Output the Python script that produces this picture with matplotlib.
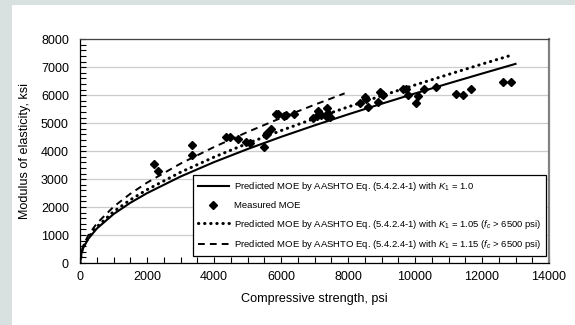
import matplotlib
matplotlib.use("Agg")
import matplotlib.pyplot as plt
from matplotlib.patches import Rectangle
from matplotlib.ticker import MultipleLocator

plt.rcParams['font.family'] = ['Liberation Sans', 'DejaVu Sans']
plt.rcParams['mathtext.fontset'] = 'custom'
plt.rcParams['mathtext.rm'] = 'Liberation Sans'
plt.rcParams['mathtext.it'] = 'Liberation Sans:italic'

# predicted curves
fc_pred = [0, 50, 100, 250, 500, 1000, 1500, 2000, 3000, 4000, 5000, 6000,
           7000, 8000, 9000, 10000, 11000, 12000, 13000]
moe_k100 = [0, 387, 547, 867, 1229, 1747, 2151, 2497, 3091, 3607, 4074, 4510,
            4921, 5314, 5694, 6063, 6422, 6774, 7121]

fc_k105 = [0, 50, 100, 250, 500, 1000, 1500, 2000, 3000, 4000, 5000, 6000,
           7000, 8000, 9000, 10000, 11000, 12000, 12900]
moe_k105 = [0, 406, 574, 910, 1290, 1835, 2259, 2622, 3245, 3787, 4278, 4735,
            5167, 5580, 5979, 6366, 6743, 7113, 7440]

fc_k115 = [0, 50, 100, 250, 500, 1000, 1500, 2000, 3000, 4000, 5000, 6000,
           7000, 7900]
moe_k115 = [0, 445, 629, 997, 1413, 2009, 2474, 2872, 3554, 4147, 4685, 5186,
            5659, 6067]

# measured
fc_meas = [2220, 2320, 3340, 3340, 4370, 4480, 4730, 4960, 5080, 5500, 5540,
           5580, 5700, 5860, 5920, 6100, 6150, 6380, 6960, 7060, 7110, 7180,
           7330, 7360, 7400, 7470, 8370, 8510, 8540, 8610, 8900, 8950, 9010,
           9050, 9630, 9730, 9800, 10030, 10080, 10270, 10620, 11220, 11440,
           11680, 12620, 12860]
moe_meas = [3530, 3300, 4230, 3850, 4520, 4490, 4440, 4340, 4300, 4160, 4560,
            4640, 4780, 5320, 5330, 5240, 5300, 5320, 5180, 5250, 5420, 5300,
            5240, 5540, 5350, 5220, 5720, 5940, 5850, 5590, 5750, 6130, 6060,
            6000, 6220, 6230, 6020, 5720, 5960, 6220, 6310, 6050, 6020, 6220,
            6460, 6460]

lbl_k100 = r'Predicted MOE by AASHTO Eq. (5.4.2.4-1) with $K_1$ = 1.0'
lbl_meas = 'Measured MOE'
lbl_k105 = r'Predicted MOE by AASHTO Eq. (5.4.2.4-1) with $K_1$ = 1.05 ($f_c$ > 6500 psi)'
lbl_k115 = r'Predicted MOE by AASHTO Eq. (5.4.2.4-1) with $K_1$ = 1.15 ($f_c$ > 6500 psi)'

fig = plt.figure(figsize=(5.75, 3.25), dpi=100)
fig.patch.set_facecolor('#d9e1e0')
fig.patches.append(Rectangle((12 / 575, 0), 1, 1 - 5 / 325, transform=fig.transFigure,
                             facecolor='white', edgecolor='none', zorder=-5))

ax = fig.add_axes([80 / 575, 62 / 325, 469 / 575, 223.7 / 325])
ax.set_facecolor('white')

ax.plot(fc_pred, moe_k100, color='black', lw=1.5, label=lbl_k100, zorder=3)
ax.plot(fc_meas, moe_meas, linestyle='none', marker='D', markersize=4.4,
        color='black', label=lbl_meas, zorder=4)
ax.plot(fc_k105, moe_k105, color='black', lw=2.2, linestyle=(0, (0.1, 1.9)),
        dash_capstyle='round', label=lbl_k105, zorder=3)
ax.plot(fc_k115, moe_k115, color='black', lw=1.4, linestyle=(0, (3.5, 2.6)),
        label=lbl_k115, zorder=3)

ax.set_xlim(0, 14000)
ax.set_ylim(0, 8000)
ax.xaxis.set_major_locator(MultipleLocator(2000))
ax.xaxis.set_minor_locator(MultipleLocator(500))
ax.yaxis.set_major_locator(MultipleLocator(1000))
ax.yaxis.set_minor_locator(MultipleLocator(200))
ax.tick_params(which='both', direction='in', length=4, width=0.8, labelsize=9,
               top=False, right=False)
ax.tick_params(axis='x', pad=6)
ax.tick_params(axis='y', pad=8)
ax.grid(axis='y', which='major', color='#cccccc', lw=0.9, zorder=0)
ax.set_axisbelow(True)

for s in ['left', 'bottom']:
    ax.spines[s].set_color('black')
    ax.spines[s].set_linewidth(0.9)
ax.spines['top'].set_color('#444444')
ax.spines['top'].set_linewidth(0.9)
ax.spines['right'].set_color('#808080')
ax.spines['right'].set_linewidth(1.6)

ax.set_xlabel('Compressive strength, psi', fontsize=9.1, labelpad=7)
ax.set_ylabel('Modulus of elasticity, ksi', fontsize=9.1, labelpad=7)

leg = ax.legend(loc='lower right', bbox_to_anchor=(1.004, 0.009), fontsize=6.8,
                frameon=True, fancybox=False, edgecolor='black', framealpha=1,
                handlelength=3.3, labelspacing=0.8, borderpad=0.55,
                handletextpad=0.5)
leg.get_frame().set_linewidth(0.9)

fig.savefig('out.png', dpi=100, facecolor=fig.get_facecolor())
